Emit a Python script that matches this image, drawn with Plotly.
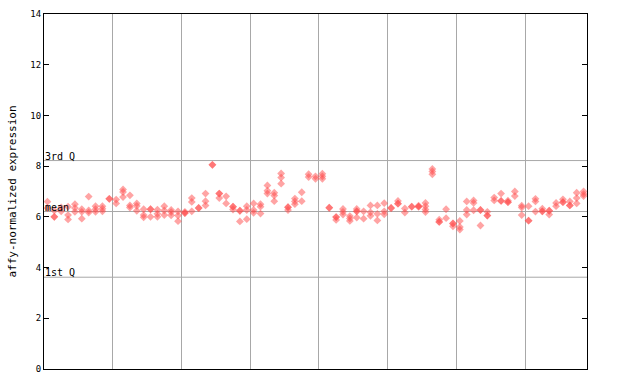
import plotly.graph_objects as go

# Expression values per sample (replicates), grouped by the vertical grid sections
group1 = [[6.6, 6.35], [6.0, 6.0, 6.25], [6.37, 6.22], [6.4, 6.07, 5.9], [6.5, 6.35, 6.2],
          [6.3, 6.2, 5.93], [6.8, 6.25, 6.17], [6.42, 6.3, 6.2], [6.42, 6.32, 6.22], [6.71, 6.71]]
group2 = [[6.68, 6.53], [7.08, 6.98, 6.78], [6.85, 6.45, 6.37], [6.53, 6.43, 6.24], [6.3, 6.07, 5.98],
          [6.3, 6.3, 6.0], [6.28, 6.12, 6.0], [6.42, 6.25, 6.07], [6.27, 6.19, 6.06], [6.22, 6.05, 5.83]]
group3 = [[6.2, 6.15, 6.15], [6.74, 6.59, 6.22], [6.35, 6.35], [6.92, 6.62, 6.45], [8.05, 8.05],
          [6.92, 6.92, 6.74], [6.81, 6.53], [6.4, 6.4, 6.29], [6.24, 6.24, 5.82], [6.42, 6.27, 5.91]]
group4 = [[6.53, 6.27, 6.16], [6.5, 6.4, 6.13], [7.24, 7.03, 6.92], [6.95, 6.84, 6.62], [7.71, 7.55, 7.31],
          [6.38, 6.38, 6.27], [6.72, 6.61, 6.5], [6.97, 6.62], [7.68, 7.57], [7.6, 7.5]]
group5 = [[7.7, 7.6, 7.5], [6.36, 6.36], [5.99, 5.99, 5.88], [6.31, 6.2, 6.09], [6.03, 5.94, 5.84],
          [6.31, 6.22, 6.22, 5.97], [6.22, 5.93], [6.45, 6.18, 6.04], [6.45, 6.12, 5.86], [6.54, 6.22, 6.1]]
group6 = [[6.35, 6.35], [6.63, 6.52, 6.52], [6.33, 6.17], [6.4, 6.4], [6.44, 6.4, 6.4],
          [6.55, 6.42, 6.29, 6.19], [7.89, 7.79, 7.68], [5.89, 5.8, 5.8], [6.3, 5.95], [5.74, 5.74, 5.63]]
group7 = [[5.84, 5.6, 5.5], [6.61, 6.27, 6.09], [6.65, 6.55, 6.26], [6.27, 6.27, 5.66], [6.2, 6.05, 6.05],
          [6.76, 6.65], [6.92, 6.63, 6.63], [6.64, 6.58, 6.58], [7.0, 6.82], [6.44, 6.37, 6.07]]
group8 = [[6.42, 5.85, 5.85], [6.71, 6.61, 6.21], [6.32, 6.22, 6.22], [6.24, 6.24, 6.09], [6.55, 6.42],
          [6.69, 6.58, 6.58], [6.61, 6.45, 6.45], [6.95, 6.74, 6.53], [7.0, 6.9, 6.82]]

groups = [group1, group2, group3, group4, group5, group6, group7, group8]

# Reference lines
q3_value = 8.22
mean_value = 6.21
q1_value = 3.62
ref_labels = ["3rd Q", "mean", "1st Q"]

y_ticks = [0, 2, 4, 6, 8, 10, 12, 14]

xs, ys = [], []
idx = 0
for g in groups:
    for sample in g:
        for v in sample:
            xs.append(idx)
            ys.append(v)
        idx += 1
n_samples = idx
group_bounds = []
acc = 0
for g in groups[:-1]:
    acc += len(g)
    group_bounds.append(acc - 0.5)

red = "#ff4a4a"
mono = "DejaVu Sans Mono"

fig = go.Figure()
fig.add_trace(go.Scatter(
    x=xs, y=ys, mode="markers",
    marker=dict(symbol="diamond", size=6, color=red, opacity=0.5, line=dict(width=0)),
    hoverinfo="skip", showlegend=False,
))

shapes = []
for yv in [q3_value, mean_value, q1_value]:
    shapes.append(dict(type="line", xref="paper", x0=0, x1=1, yref="y", y0=yv, y1=yv,
                       line=dict(color="#a8a8a8", width=1), layer="below"))

annotations = []
for yv, lab in zip([q3_value, mean_value, q1_value], ref_labels):
    annotations.append(dict(xref="paper", x=0, y=yv, yref="y", text=lab, showarrow=False,
                            xanchor="left", yanchor="bottom", xshift=-1, yshift=-3,
                            font=dict(family=mono, size=10, color="black")))

fig.update_layout(
    width=640, height=384,
    margin=dict(l=44, r=53, t=14, b=15, autoexpand=False),
    paper_bgcolor="white", plot_bgcolor="white",
    shapes=shapes, annotations=annotations,
    xaxis=dict(range=[-0.5, n_samples - 0.5], tickvals=group_bounds, showticklabels=False,
               ticks="", showgrid=True, gridcolor="#a8a8a8", gridwidth=1, zeroline=False,
               showline=True, linecolor="black", linewidth=1, mirror=True, automargin=False),
    yaxis=dict(range=[0, 14], tickvals=y_ticks, ticktext=[str(t) for t in y_ticks],
               ticks="inside", ticklen=5, tickcolor="black", showgrid=False, zeroline=False,
               showline=True, linecolor="black", linewidth=1, mirror="ticks", automargin=False,
               tickfont=dict(family=mono, size=9, color="black"),
               title=dict(text="affy-normalized expression", standoff=11,
                          font=dict(family=mono, size=11, color="black"))),
)

fig.write_html("out.html")
